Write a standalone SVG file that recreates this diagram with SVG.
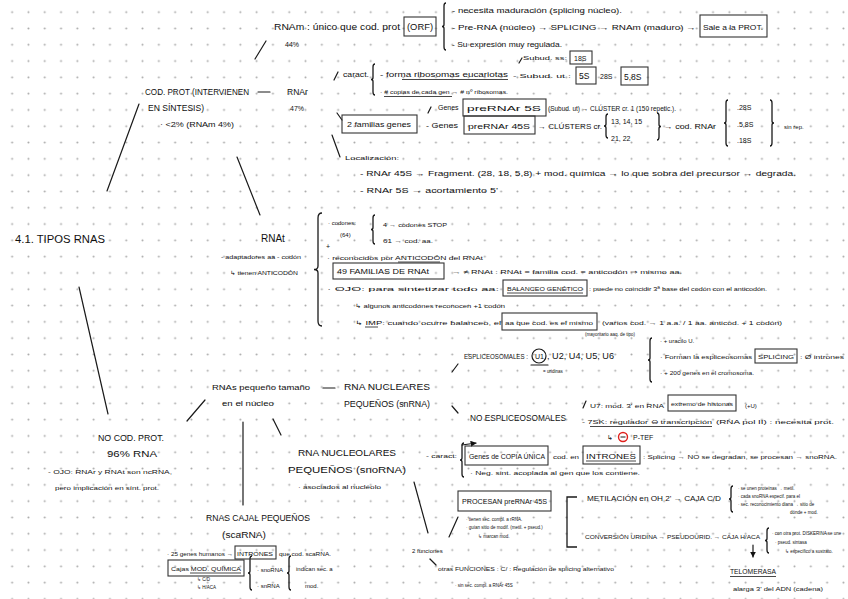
<svg xmlns="http://www.w3.org/2000/svg" width="848" height="599" viewBox="0 0 848 599">
<defs>
<pattern id="dots" x="4" y="4" width="16.3" height="16.3" patternUnits="userSpaceOnUse"><circle cx="8.15" cy="8.15" r="1" fill="#a8a8a8"/></pattern>
<marker id="ah" viewBox="0 0 10 10" refX="9" refY="5" markerWidth="5" markerHeight="5" orient="auto"><path d="M0,0 L10,5 L0,10 z" fill="#111"/></marker>
</defs>
<style>
text{font-family:"Liberation Sans",Arial,sans-serif;fill:#111}
.h{font-size:10px}
.m{font-size:8.5px}
.t{font-size:7px}
.s{font-size:6px}
.x{font-size:4.5px}
.bx{fill:none;stroke:#333;stroke-width:1.1}
.ln{stroke:#1a1a1a;stroke-width:1.2;fill:none;stroke-linecap:round}
.br{stroke:#1a1a1a;stroke-width:1.3;fill:none}
.ul{stroke:#1a1a1a;stroke-width:0.8}
</style>
<rect width="848" height="599" fill="#fff"/>
<rect width="848" height="599" fill="url(#dots)"/>

<g id="connectors">
<line class="ln" x1="107" y1="191" x2="139" y2="104"/>
<line class="ln" x1="79" y1="287" x2="108" y2="414"/>
<line class="ln" x1="255" y1="59" x2="266" y2="41"/>
<line class="ln" x1="258" y1="92" x2="270" y2="92"/>
<line class="ln" x1="237" y1="157" x2="260" y2="215"/>
<line class="ln" x1="187" y1="421" x2="205" y2="400"/>
<line class="ln" x1="323" y1="388" x2="335" y2="388"/>
<line class="ln" x1="243" y1="422" x2="243" y2="505"/>
<line class="ln" x1="273" y1="419" x2="281" y2="435"/>
<line class="ln" x1="452" y1="372" x2="458" y2="364"/>
<line class="ln" x1="452" y1="406" x2="458" y2="413"/>
<line class="ln" x1="414" y1="482" x2="428" y2="533"/>
<line class="ln" x1="449" y1="537" x2="458" y2="517"/>
<line class="ln" x1="430" y1="559" x2="436" y2="565"/>
<line class="ln" x1="334" y1="80" x2="338" y2="72"/>
<line class="ln" x1="519" y1="63" x2="522" y2="58"/>
<line class="ln" x1="428" y1="113" x2="431" y2="107"/>
<line class="ln" x1="337" y1="113" x2="342" y2="120"/>
<line class="ln" x1="332" y1="135" x2="340" y2="157"/>
<line class="ln" x1="583" y1="408" x2="586" y2="401"/>
<line class="ln" x1="462" y1="445" x2="476" y2="443" marker-end="url(#ah)"/>
<line class="ln" x1="753" y1="545" x2="753" y2="557" marker-end="url(#ah)"/>
<path class="br" d="M577,497 H567 V547 H577"/>
</g>

<g id="braces">
<path class="br" d="M446,3 Q444,3 444,6 L444,24.5 Q444,26.5 442,26.5 Q444,26.5 444,28.5 L444,47 Q444,50 446,50"/>
<path class="br" d="M375,64 Q373,64 373,67 L373,77.5 Q373,79.5 371,79.5 Q373,79.5 373,81.5 L373,92 Q373,95 375,95"/>
<path class="br" d="M608,114 Q606,114 606,117 L606,124 Q606,126 604,126 Q606,126 606,128 L606,135 Q606,138 608,138"/>
<path class="br" d="M657,113 Q659,113 659,116 L659,124.5 Q659,126.5 661,126.5 Q659,126.5 659,128.5 L659,137 Q659,140 657,140"/>
<path class="br" d="M728,100 Q726,100 726,103 L726,121 Q726,123 724,123 Q726,123 726,125 L726,143 Q726,146 728,146"/>
<path class="br" d="M770,100 Q772,100 772,103 L772,121 Q772,123 774,123 Q772,123 772,125 L772,143 Q772,146 770,146"/>
<path class="br" d="M322,213 Q318,213 318,218 L318,266 Q318,269.5 314,269.5 Q318,269.5 318,273 L318,321 Q318,326 322,326"/>
<path class="br" d="M375,215 Q373,215 373,218 L373,227.5 Q373,229.5 371,229.5 Q373,229.5 373,231.5 L373,241 Q373,244 375,244"/>
<path class="br" d="M652,338 Q650,338 650,341 L650,358 Q650,360 648,360 Q650,360 650,362 L650,379 Q650,382 652,382"/>
<path class="br" d="M464,443 Q462,443 462,446 L462,458 Q462,460 460,460 Q462,460 462,462 L462,474 Q462,477 464,477"/>
<path class="br" d="M733,486 Q731,486 731,489 L731,497 Q731,499 729,499 Q731,499 731,501 L731,509 Q731,512 733,512"/>
<path class="br" d="M769,528 Q767,528 767,531 L767,538.5 Q767,540.5 765,540.5 Q767,540.5 767,542.5 L767,550 Q767,553 769,553"/>
<path class="br" d="M252,556 Q250,556 250,559 L250,571 Q250,573 248,573 Q250,573 250,575 L250,587 Q250,590 252,590"/>
<path class="br" d="M291,556 Q289,556 289,559 L289,571 Q289,573 287,573 Q289,573 289,575 L289,587 Q289,590 291,590"/>
</g>

<g id="title">
<text class="h" x="15" y="243" textLength="90" lengthAdjust="spacingAndGlyphs">4.1. TIPOS RNAS</text>
</g>

<g id="cod-prot">
<text class="m" x="145" y="95" textLength="104" lengthAdjust="spacingAndGlyphs">COD. PROT (INTERVIENEN</text>
<text class="m" x="148" y="111" textLength="56" lengthAdjust="spacingAndGlyphs">EN SÍNTESIS)</text>
<text class="t" x="160" y="127" textLength="74" lengthAdjust="spacingAndGlyphs">· &lt;2% (RNAm 4%)</text>
</g>

<g id="rnam">
<text class="m" x="274" y="30" textLength="126" lengthAdjust="spacingAndGlyphs">RNAm : único que cod. prot</text>
<rect class="bx" x="404" y="17" width="32" height="19"/>
<text class="m" x="407" y="30" textLength="26" lengthAdjust="spacingAndGlyphs">(ORF)</text>
<text class="t" x="285" y="47">44%</text>
<text class="t" x="452" y="13" textLength="170" lengthAdjust="spacingAndGlyphs">- necesita maduración (splicing núcleo).</text>
<text class="t" x="452" y="30" textLength="244" lengthAdjust="spacingAndGlyphs">- Pre-RNA (núcleo) → SPLICING → RNAm (maduro) →</text>
<rect class="bx" x="700" y="15" width="67" height="22"/>
<text class="t" x="703" y="30" textLength="60" lengthAdjust="spacingAndGlyphs">Sale a la PROT.</text>
<text class="t" x="452" y="47" textLength="110" lengthAdjust="spacingAndGlyphs">- Su expresión muy regulada.</text>
</g>

<g id="rnar">
<text class="m" x="287" y="95">RNAr</text>
<text class="t" x="290" y="111">47%</text>
<text class="t" x="343" y="77" textLength="26" lengthAdjust="spacingAndGlyphs">caract.</text>
<text class="t" x="380" y="77" textLength="128" lengthAdjust="spacingAndGlyphs">- forma ribosomas eucariotas</text>
<line class="ul" x1="402" y1="79.5" x2="508" y2="79.5"/>
<text class="s" x="523" y="60" textLength="44" lengthAdjust="spacingAndGlyphs">Subud. ss:</text>
<rect class="bx" x="570" y="51" width="22" height="13"/>
<text class="t" x="574" y="61">18S</text>
<text class="s" x="513" y="78" textLength="58" lengthAdjust="spacingAndGlyphs">- Subud. ut :</text>
<rect class="bx" x="576" y="67" width="20" height="17"/>
<text class="m" x="579" y="79">5S</text>
<text class="t" x="600" y="79">28S</text>
<rect class="bx" x="621" y="67" width="27" height="18"/>
<text class="m" x="624" y="80">5,8S</text>
<text class="s" x="380" y="94" textLength="128" lengthAdjust="spacingAndGlyphs">· # copias de cada gen → # nº ribosomas.</text>
<line class="ul" x1="384" y1="96.5" x2="452" y2="96.5"/>
<text class="t" x="438" y="110">Genes</text>
<rect class="bx" x="463" y="99" width="83" height="17"/>
<text class="t" x="467" y="111" textLength="74" lengthAdjust="spacingAndGlyphs">preRNAr 5S</text>
<text class="t" x="548" y="111" textLength="128" lengthAdjust="spacingAndGlyphs">(Subud. ut) → CLÚSTER cr. 1 (150 repetic.).</text>
<rect class="bx" x="342" y="115" width="75" height="18"/>
<text class="t" x="347" y="127" textLength="64" lengthAdjust="spacingAndGlyphs">2 familias genes</text>
<text class="t" x="426" y="128" textLength="32" lengthAdjust="spacingAndGlyphs">- Genes</text>
<rect class="bx" x="464" y="116" width="71" height="18"/>
<text class="t" x="468" y="129" textLength="62" lengthAdjust="spacingAndGlyphs">preRNAr 45S</text>
<text class="t" x="538" y="129" textLength="64" lengthAdjust="spacingAndGlyphs">→ CLÚSTERS cr.</text>
<text class="t" x="611" y="124">13, 14, 15</text>
<text class="t" x="611" y="141">21, 22</text>
<text class="t" x="664" y="129" textLength="52" lengthAdjust="spacingAndGlyphs">→ cod. RNAr</text>
<text class="t" x="737" y="110">.28S</text>
<text class="t" x="737" y="127">.5,8S</text>
<text class="t" x="737" y="143">.18S</text>
<text class="s" x="784" y="129">sin rep.</text>
<text class="s" x="345" y="160" textLength="54" lengthAdjust="spacingAndGlyphs">Localización:</text>
<text class="t" x="360" y="176" textLength="436" lengthAdjust="spacingAndGlyphs">- RNAr 45S → Fragment. (28, 18, 5,8) + mod. química → lo que sobra del precursor → degrada.</text>
<text class="t" x="360" y="193" textLength="138" lengthAdjust="spacingAndGlyphs">- RNAr 5S → acortamiento 5'</text>
</g>

<g id="rnat">
<text class="h" x="261" y="242">RNAt</text>
<text class="s" x="221" y="259" textLength="80" lengthAdjust="spacingAndGlyphs">- adaptadores aa - codón</text>
<text class="s" x="230" y="275" textLength="68" lengthAdjust="spacingAndGlyphs">↳ tienen ANTICODÓN</text>
<text class="s" x="328" y="225">· codones:</text>
<text class="s" x="340" y="237">(64)</text>
<text class="t" x="326" y="249">+</text>
<text class="s" x="383" y="227" textLength="64" lengthAdjust="spacingAndGlyphs">4 → codones STOP</text>
<text class="s" x="383" y="243" textLength="50" lengthAdjust="spacingAndGlyphs">61 → cod. aa.</text>
<text class="s" x="327" y="260" textLength="156" lengthAdjust="spacingAndGlyphs">· reconocidos por ANTICODÓN del RNAt</text>
<line class="ul" x1="398" y1="262" x2="440" y2="262"/>
<rect class="bx" x="333" y="263" width="111" height="16"/>
<text class="t" x="337" y="274" textLength="92" lengthAdjust="spacingAndGlyphs">49 FAMILIAS DE RNAt</text>
<text class="s" x="452" y="274" textLength="230" lengthAdjust="spacingAndGlyphs">→ ≠ RNAt : RNAt = familia cod. = anticodón ⇒ mismo aa.</text>
<text class="s" x="327" y="291" textLength="172" lengthAdjust="spacingAndGlyphs">· OJO: para sintetizar todo aa:</text>
<rect class="bx" x="503" y="280" width="84" height="16"/>
<text class="s" x="507" y="291" textLength="76" lengthAdjust="spacingAndGlyphs">BALANCEO GENÉTICO</text>
<line class="ul" x1="507" y1="293" x2="583" y2="293"/>
<text class="s" x="589" y="291" textLength="178" lengthAdjust="spacingAndGlyphs">: puede no coincidir 3ª base del codón con el anticodón.</text>
<text class="s" x="355" y="308" textLength="150" lengthAdjust="spacingAndGlyphs">↳ algunos anticodones reconocen +1 codón</text>
<text class="s" x="355" y="325" textLength="146" lengthAdjust="spacingAndGlyphs">↳ IMP: cuando ocurre balanceo, el</text>
<line class="ul" x1="365" y1="327" x2="378" y2="327"/>
<rect class="bx" x="502" y="313" width="95" height="17"/>
<text class="s" x="505" y="325" textLength="88" lengthAdjust="spacingAndGlyphs">aa que cod. es el mismo</text>
<text class="s" x="602" y="325" textLength="180" lengthAdjust="spacingAndGlyphs">(varios cod. → 1 a.a. / 1 aa. anticod. + 1 codón)</text>
<text class="x" x="585" y="336">(mayoritario aaq. de tipo)</text>
</g>

<g id="no-cod-prot">
<text class="m" x="98" y="441" textLength="66" lengthAdjust="spacingAndGlyphs">NO COD. PROT.</text>
<text class="m" x="107" y="457" textLength="50" lengthAdjust="spacingAndGlyphs">96% RNA</text>
<text class="s" x="48" y="474" textLength="124" lengthAdjust="spacingAndGlyphs">- OJO: RNAr y RNAt son ncRNA,</text>
<text class="s" x="55" y="490" textLength="104" lengthAdjust="spacingAndGlyphs">pero implicación en sínt. prot.</text>
</g>

<g id="rnas-pequeno">
<text class="t" x="212" y="390" textLength="98" lengthAdjust="spacingAndGlyphs">RNAs pequeño tamaño</text>
<text class="t" x="222" y="406" textLength="52" lengthAdjust="spacingAndGlyphs">en el núcleo</text>
</g>

<g id="snrna">
<text class="m" x="344" y="390" textLength="86" lengthAdjust="spacingAndGlyphs">RNA NUCLEARES</text>
<text class="m" x="344" y="407" textLength="86" lengthAdjust="spacingAndGlyphs">PEQUEÑOS (snRNA)</text>
</g>

<g id="espliceosomales">
<text x="464" y="359" font-size="6.3" textLength="64" lengthAdjust="spacingAndGlyphs">ESPLICEOSOMALES :</text>
<circle cx="539" cy="356" r="7" fill="none" stroke="#1a1a1a" stroke-width="1.2"/>
<text class="t" x="535" y="358.5" textLength="9" lengthAdjust="spacingAndGlyphs">U1</text>
<text class="m" x="547" y="359" textLength="67" lengthAdjust="spacingAndGlyphs">, U2, U4, U5, U6</text>
<line class="ln" x1="531" y1="365" x2="548" y2="365"/>
<text class="x" x="543" y="373">= uridinas</text>
<text class="s" x="660" y="343" font-size="5.5">· + uracilo U.</text>
<text class="s" x="660" y="359" textLength="92" lengthAdjust="spacingAndGlyphs">· Forman la espliceosomas</text>
<rect class="bx" x="755" y="349" width="42" height="14"/>
<text class="s" x="758" y="359" textLength="36" lengthAdjust="spacingAndGlyphs">SPLICING</text>
<text class="s" x="800" y="359" textLength="44" lengthAdjust="spacingAndGlyphs">: Ø intrones</text>
<text class="s" x="660" y="375" textLength="94" lengthAdjust="spacingAndGlyphs">· + 200 genes en el cromosoma.</text>
</g>

<g id="no-espliceosomales">
<text class="m" x="470" y="421" textLength="96" lengthAdjust="spacingAndGlyphs">NO ESPLICEOSOMALES</text>
<text class="s" x="590" y="408" textLength="74" lengthAdjust="spacingAndGlyphs">U7: mod. 3' en RNA</text>
<rect class="bx" x="668" y="395" width="68" height="16"/>
<text class="s" x="671" y="406" textLength="62" lengthAdjust="spacingAndGlyphs">extremo de histonas</text>
<text class="s" x="745" y="408">(+U)</text>
<text class="s" x="582" y="424" textLength="130" lengthAdjust="spacingAndGlyphs">- 7SK: regulador ⊖ transcripción</text>
<line class="ul" x1="590" y1="426.5" x2="712" y2="426.5"/>
<text class="s" x="716" y="424" textLength="118" lengthAdjust="spacingAndGlyphs">(RNA pol II) : necesita prot.</text>
<text class="t" x="607" y="440">↳</text>
<circle cx="623" cy="437" r="4.5" fill="none" stroke="#e0201c" stroke-width="1.4"/>
<line x1="620.5" y1="437" x2="625.5" y2="437" stroke="#1a1a1a" stroke-width="1"/>
<text class="t" x="633" y="440">P-TEF</text>
</g>

<g id="snorna">
<text class="m" x="298" y="456" textLength="98" lengthAdjust="spacingAndGlyphs">RNA NUCLEOLARES</text>
<text class="m" x="288" y="473" textLength="118" lengthAdjust="spacingAndGlyphs">PEQUEÑOS (snoRNA)</text>
<text class="s" x="298" y="489" textLength="83" lengthAdjust="spacingAndGlyphs">· asociados al nucléolo</text>
<text class="s" x="426" y="458" textLength="31" lengthAdjust="spacingAndGlyphs">- caract:</text>
<rect class="bx" x="465" y="446" width="83" height="19"/>
<text class="t" x="469" y="459" textLength="76" lengthAdjust="spacingAndGlyphs">Genes de COPIA ÚNICA</text>
<text class="s" x="553" y="459" textLength="26" lengthAdjust="spacingAndGlyphs">cod. en</text>
<rect class="bx" x="583" y="446" width="57" height="18"/>
<text class="t" x="586" y="459" textLength="50" lengthAdjust="spacingAndGlyphs">INTRONES</text>
<line class="ul" x1="586" y1="461" x2="636" y2="461"/>
<text class="s" x="643" y="459" textLength="194" lengthAdjust="spacingAndGlyphs">: Splicing → NO se degradan, se procesan → snoRNA.</text>
<text class="s" x="470" y="475" textLength="170" lengthAdjust="spacingAndGlyphs">· Neg. sint. acoplada al gen que los contiene.</text>
<text class="s" x="412" y="553" font-size="5.5">2 funciones</text>
</g>

<g id="procesan">
<rect class="bx" x="458" y="491" width="93" height="20"/>
<text class="t" x="462" y="504" textLength="85" lengthAdjust="spacingAndGlyphs">PROCESAN preRNAr 45S</text>
<text class="x" x="466" y="521">· tienen sec. compl. a rRNA.</text>
<text class="x" x="466" y="529">· guían sitio de modif. (metil. + pseud.)</text>
<text class="x" x="478" y="538">↳ marcan mod.</text>
<text class="t" x="587" y="501" textLength="134" lengthAdjust="spacingAndGlyphs">METILACIÓN en OH 2' → CAJA C/D</text>
<text class="x" x="738" y="490">· se unen proteínas → metil.</text>
<text class="x" x="738" y="498">· cada snoRNA especif. para el</text>
<text class="x" x="738" y="506">· sec. reconocimiento diana → sitio de</text>
<text class="x" x="790" y="514">dónde + mod.</text>
<text class="s" x="585" y="539" textLength="175" lengthAdjust="spacingAndGlyphs">CONVERSIÓN URIDINA → PSEUDOURID. → CAJA H/ACA</text>
<text class="x" x="772" y="535">· con otra prot. DISKERINA se une</text>
<text class="x" x="775" y="544">· pseud. sintasa</text>
<text class="x" x="785" y="553">↳ específico a sustrato.</text>
</g>

<g id="telomerasa">
<text class="t" x="730" y="574" textLength="46" lengthAdjust="spacingAndGlyphs">TELOMERASA</text>
<line class="ul" x1="730" y1="576.5" x2="776" y2="576.5"/>
<text class="s" x="733" y="591" font-size="5.5" textLength="90" lengthAdjust="spacingAndGlyphs">alarga 3' del ADN (cadena)</text>
</g>

<g id="otras-funciones">
<text class="s" x="438" y="571" textLength="176" lengthAdjust="spacingAndGlyphs">otras FUNCIONES : C/ : Regulación de splicing alternativo</text>
<text class="x" x="455" y="587">· sin sec. compl. a RNAr 45S</text>
</g>

<g id="scarna">
<text class="m" x="206" y="521" textLength="104" lengthAdjust="spacingAndGlyphs">RNAS CAJAL PEQUEÑOS</text>
<text class="m" x="222" y="538" textLength="44" lengthAdjust="spacingAndGlyphs">(scaRNA)</text>
<text class="s" x="167" y="556" font-size="5.5" textLength="66" lengthAdjust="spacingAndGlyphs">· 25 genes humanos →</text>
<rect class="bx" x="235" y="546" width="41" height="13"/>
<text class="s" x="237" y="556" font-size="5.5" textLength="36" lengthAdjust="spacingAndGlyphs">INTRONES</text>
<text class="s" x="279" y="556" font-size="5.5" textLength="52" lengthAdjust="spacingAndGlyphs">que cod. scaRNA.</text>
<rect class="bx" x="168" y="560" width="76" height="16"/>
<text class="s" x="171" y="571" textLength="70" lengthAdjust="spacingAndGlyphs">Cajas MOD. QUÍMICA</text>
<line class="ul" x1="190" y1="573" x2="241" y2="573"/>
<text class="x" x="197" y="581" font-size="3.5">↳ C/D</text>
<text class="x" x="197" y="589" font-size="3.5">↳ H/ACA</text>
<text class="s" x="257" y="572" font-size="5.5">· snoRNA</text>
<text class="s" x="257" y="588" font-size="5.5">· snRNA</text>
<text class="s" x="296" y="571" font-size="5">indican sec. a</text>
<text class="s" x="305" y="588" font-size="5">mod.</text>
</g>
</svg>
